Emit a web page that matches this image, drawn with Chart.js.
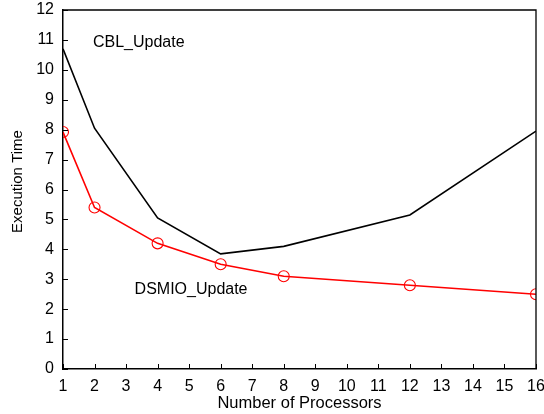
<!DOCTYPE html>
<html><head><meta charset="utf-8">
<script src="https://cdn.jsdelivr.net/npm/chart.js@4"></script>
<style>html,body{margin:0;padding:0;background:#fff}#w{width:544px;height:414px}</style>
</head><body><div id="w"><canvas id="c"></canvas></div>
<script>
const processors = [1, 2, 4, 6, 8, 12, 16];
const cblUpdate = [10.7, 8.05, 5.05, 3.85, 4.1, 5.15, 7.95];
const dsmioUpdate = [7.92, 5.4, 4.2, 3.5, 3.1, 2.8, 2.5];
const xTicks = [1,2,3,4,5,6,7,8,9,10,11,12,13,14,15,16];
const yTicks = [0,1,2,3,4,5,6,7,8,9,10,11,12];
const seriesLabels = [
  {text: 'CBL_Update', x: 1.95, y: 10.9},
  {text: 'DSMIO_Update', x: 3.27, y: 2.65}
];
const yTitle = 'Execution Time';
const FONT = 'Liberation Sans, Arial, sans-serif';

const frame = {
  id: 'frame',
  afterDraw(chart) {
    const {ctx, chartArea: a, scales: {x, y}} = chart;
    ctx.save();
    ctx.strokeStyle = '#000';
    ctx.lineWidth = 1.3;
    ctx.beginPath();
    ctx.moveTo(a.left, a.top); ctx.lineTo(a.right, a.top); ctx.lineTo(a.right, a.bottom);
    ctx.stroke();
    ctx.lineWidth = 1;
    ctx.beginPath();
    xTicks.forEach(v => { const px = Math.round(x.getPixelForValue(v)) + 0.5; ctx.moveTo(px, a.bottom); ctx.lineTo(px, a.bottom - 5); });
    yTicks.forEach(v => { const py = Math.round(y.getPixelForValue(v)) + 0.5; ctx.moveTo(a.left, py); ctx.lineTo(a.left + 5, py); });
    ctx.stroke();
    ctx.fillStyle = '#000';
    ctx.font = '16px ' + FONT;
    ctx.textBaseline = 'middle';
    ctx.textAlign = 'left';
    seriesLabels.forEach(l => ctx.fillText(l.text, x.getPixelForValue(l.x), y.getPixelForValue(l.y)));
    ctx.font = '15px ' + FONT;
    ctx.textAlign = 'center';
    ctx.translate(18, (a.top + a.bottom) / 2 - 8);
    ctx.rotate(-Math.PI / 2);
    ctx.fillText(yTitle, 0, 0);
    ctx.restore();
  }
};

new Chart(document.getElementById('c'), {
  type: 'line',
  data: {
    datasets: [
      {label: 'CBL_Update', data: processors.map((p, i) => ({x: p, y: cblUpdate[i]})),
       borderColor: '#000', borderWidth: 1.6, pointRadius: 0, tension: 0, fill: false},
      {label: 'DSMIO_Update', data: processors.map((p, i) => ({x: p, y: dsmioUpdate[i]})),
       borderColor: '#ff0000', borderWidth: 1.6, pointRadius: 5.5, pointBorderWidth: 1.1,
       pointBackgroundColor: 'rgba(0,0,0,0)', pointBorderColor: '#ff0000', tension: 0, fill: false}
    ]
  },
  options: {
    responsive: true, maintainAspectRatio: false, animation: false,
    layout: {padding: {top: 10, right: 8, left: 0, bottom: 0}},
    plugins: {legend: {display: false}, tooltip: {enabled: false}},
    scales: {
      x: {
        type: 'linear', min: 1, max: 16,
        afterBuildTicks: s => { s.ticks = xTicks.map(v => ({value: v})); },
        afterFit: s => { s.height = 45; s.paddingLeft = 0; s.paddingRight = 0; },
        grid: {display: false},
        border: {display: true, color: '#000', width: 1.5},
        ticks: {color: '#000', font: {family: FONT, size: 16}, padding: 0, maxRotation: 0, autoSkip: false},
        title: {display: true, text: 'Number of Processors', color: '#000', font: {family: FONT, size: 16.5}, padding: {top: 0, bottom: 1}}
      },
      y: {
        min: 0, max: 12,
        afterBuildTicks: s => { s.ticks = yTicks.map(v => ({value: v})); },
        afterFit: s => { s.width = 63; s.paddingTop = 0; s.paddingBottom = 0; },
        grid: {display: false},
        border: {display: true, color: '#000', width: 1.5},
        ticks: {color: '#000', font: {family: FONT, size: 16}, padding: 1, autoSkip: false},
        title: {display: false}
      }
    }
  },
  plugins: [frame]
});
</script></body></html>
